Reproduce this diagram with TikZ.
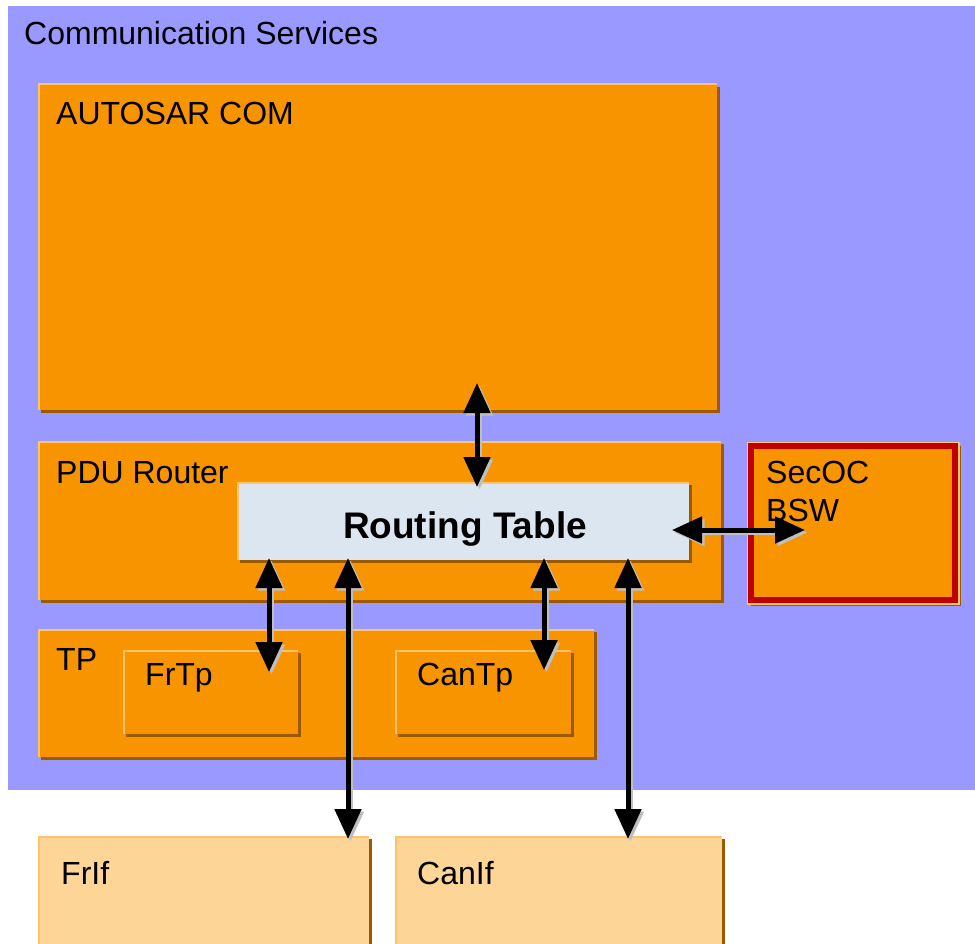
\documentclass[tikz,border=0pt]{standalone}
\usepackage{fontspec}
\setmainfont{Liberation Sans}
\usetikzlibrary{arrows.meta,shadows}
\definecolor{bgpurple}{HTML}{9999FF}
\definecolor{orng}{HTML}{F79400}
\definecolor{paleorng}{HTML}{FDD597}
\definecolor{edgelight}{HTML}{FFC46A}
\definecolor{edgedark}{HTML}{9C5A00}
\definecolor{rtfill}{HTML}{DCE6F1}
\definecolor{secred}{HTML}{C00000}
\definecolor{arrshadow}{HTML}{BFBFBF}
\begin{document}
\begin{tikzpicture}[x=1pt,y=-1pt,
  box/.style={anchor=north west, inner sep=0pt, outer sep=0pt, fill=#1,
    drop shadow={shadow xshift=3pt,shadow yshift=-3pt,fill=edgedark,opacity=1},
    path picture={\draw[line width=3pt,edgelight] (path picture bounding box.south west) -- (path picture bounding box.north west) -- (path picture bounding box.north east);}},
  box/.default=orng,
  lbl/.style={anchor=base west, inner sep=0pt, font=\fontsize{32}{38}\selectfont},
  link/.style={line width=5pt, {Triangle[width=26pt,length=30pt]}-{Triangle[width=26pt,length=30pt]}},
]
\useasboundingbox (0,0) rectangle (975,944);
% background
\node[anchor=north west, inner sep=0pt, outer sep=0pt, fill=bgpurple, minimum width=967pt, minimum height=784pt] (cs) at (8,6) {};
\node[lbl] (cstext) at (24,45) {Communication Services};
% boxes
\node[box, minimum width=679pt, minimum height=326pt] (com) at (38,84) {};
\node[box, minimum width=683pt, minimum height=159pt] (pdur) at (38,441) {};
\node[box=rtfill, minimum width=452pt, minimum height=78pt] (rt) at (237,482) {};
\node[anchor=north west, inner sep=0pt, outer sep=0pt, fill=orng, draw=secred, line width=6pt,
  drop shadow={shadow xshift=3pt,shadow yshift=-3pt,fill=edgedark,draw=edgedark,opacity=1},
  preaction={draw=edgelight, line width=9pt},
  minimum width=204pt, minimum height=154pt] (secoc) at (751,446) {};
\node[box, minimum width=556pt, minimum height=128pt] (tp) at (38,629) {};
\node[box, minimum width=175pt, minimum height=84pt] (frtp) at (123,650) {};
\node[box, minimum width=176pt, minimum height=84pt] (cantp) at (395,650) {};
\node[box=paleorng, minimum width=331pt, minimum height=120pt] (frif) at (38,836) {};
\node[box=paleorng, minimum width=327pt, minimum height=120pt] (canif) at (395,836) {};
% labels
\node[lbl] (comtext) at (56,125) {AUTOSAR COM};
\node[lbl] (pdurtext) at (56,483) {PDU Router};
\node[anchor=base, inner sep=0pt, font=\fontsize{37}{41}\selectfont\bfseries] (rttext) at (465,538) {Routing Table};
\node[lbl] (sectext1) at (766,483) {SecOC};
\node[lbl] (sectext2) at (766,521) {BSW};
\node[lbl] (tptext) at (56,670) {TP};
\node[lbl] (frtptext) at (145,685) {FrTp};
\node[lbl] (cantptext) at (417,685) {CanTp};
\node[lbl] (friftext) at (61,884) {FrIf};
\node[lbl] (caniftext) at (417,884) {CanIf};
% connector end points
\coordinate (a1t) at (477,383); \coordinate (a1b) at (477,487);
\coordinate (a2l) at (672,530); \coordinate (a2r) at (805,530);
\coordinate (a3t) at (269,558); \coordinate (a3b) at (269,672);
\coordinate (a4t) at (348,558); \coordinate (a4b) at (348,839);
\coordinate (a5t) at (544,558); \coordinate (a5b) at (544,670);
\coordinate (a6t) at (628,558); \coordinate (a6b) at (628,839);
% connector shadows
\begin{scope}[transform canvas={shift={(2.5pt,-2.5pt)}}]
\draw[link, arrshadow] (a1t) -- (a1b);
\draw[link, arrshadow] (a2l) -- (a2r);
\draw[link, arrshadow] (a3t) -- (a3b);
\draw[link, arrshadow] (a4t) -- (a4b);
\draw[link, arrshadow] (a5t) -- (a5b);
\draw[link, arrshadow] (a6t) -- (a6b);
\end{scope}
% connectors
\draw[link] (a1t) -- (a1b);
\draw[link] (a2l) -- (a2r);
\draw[link] (a3t) -- (a3b);
\draw[link] (a4t) -- (a4b);
\draw[link] (a5t) -- (a5b);
\draw[link] (a6t) -- (a6b);
\end{tikzpicture}
\end{document}
